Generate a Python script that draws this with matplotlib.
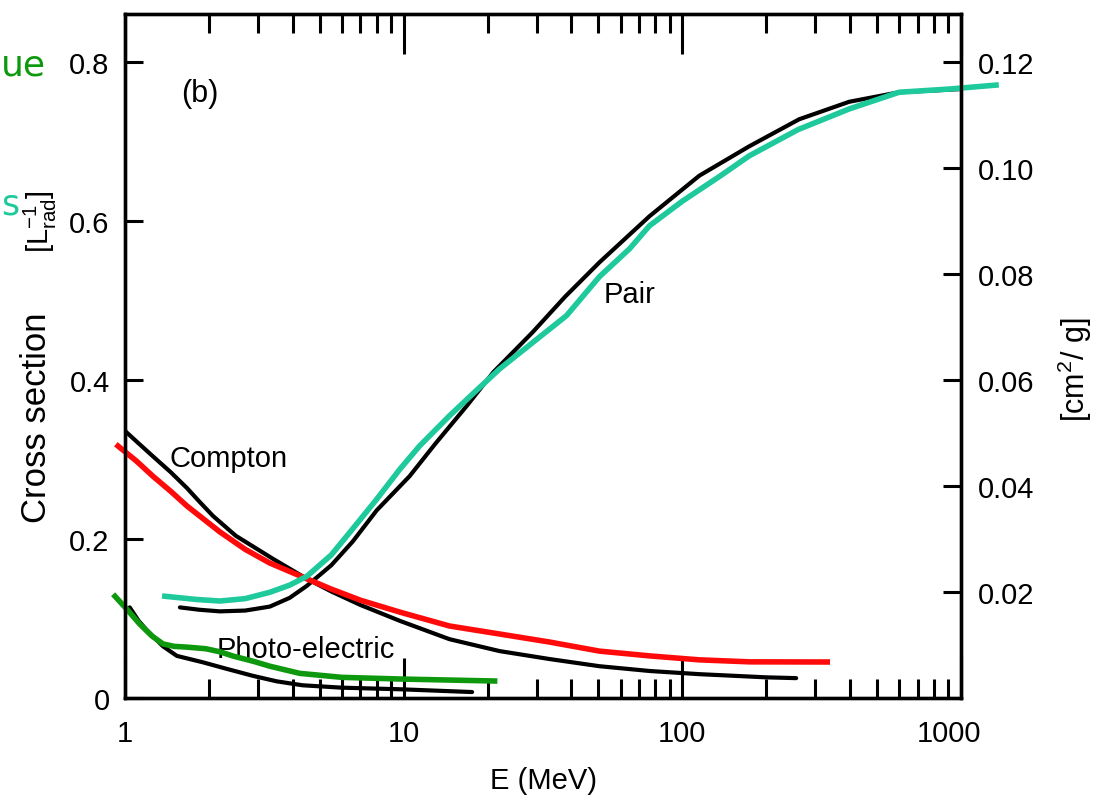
import numpy as np
import matplotlib
matplotlib.use("Agg")
import matplotlib.pyplot as plt
from matplotlib.transforms import ScaledTranslation

plt.rcParams['font.family'] = ['Liberation Sans', 'DejaVu Sans']
plt.rcParams['mathtext.fontset'] = 'custom'
plt.rcParams['mathtext.rm'] = 'Liberation Sans'
plt.rcParams['mathtext.it'] = 'Liberation Sans'

# ---- scanned (black) curves: energy in MeV, cross section in 1/L_rad ----
compton_E = [1.0, 1.13, 1.26, 1.46, 1.67, 1.85, 2.07, 2.5, 3.4, 4.49, 5.5, 7.0, 9.7, 14.6, 22.1, 33.4,
             50.4, 76.2, 115, 200, 256]
compton_v = [0.336, 0.319, 0.304, 0.284, 0.264, 0.247, 0.229, 0.204, 0.175, 0.150, 0.134, 0.117, 0.097,
             0.074, 0.059, 0.049, 0.040, 0.034, 0.030, 0.026, 0.025]

pair_E = [1.575, 1.85, 2.19, 2.7, 3.31, 3.9, 4.49, 5.5, 6.57, 8.0, 10.5, 13.0, 16.8, 21.0, 29.0, 38.0,
          50.4, 76.2, 115, 173.8, 262.5, 396.8, 599.6, 1000]
pair_v = [0.114, 0.111, 0.109, 0.110, 0.115, 0.126, 0.141, 0.167, 0.197, 0.236, 0.279, 0.320, 0.367,
          0.410, 0.460, 0.505, 0.548, 0.606, 0.657, 0.694, 0.728, 0.750, 0.762, 0.766]

photo_E = [1.04, 1.12, 1.2, 1.37, 1.535, 1.90, 2.3, 2.87, 3.5, 4.34, 6.0, 9.7, 17.6]
photo_v = [0.114, 0.097, 0.085, 0.065, 0.053, 0.045, 0.037, 0.028, 0.021, 0.016, 0.013, 0.011, 0.0075]

# ---- coloured overlays ----
red_E = [0.944, 1.1, 1.26, 1.46, 1.67, 1.9, 2.19, 2.7, 3.3, 4.49, 5.5, 7.0, 9.7, 14.6, 22.1, 33.4,
         50.4, 76.2, 115, 174, 331]
red_v = [0.317, 0.298, 0.279, 0.260, 0.2415, 0.226, 0.209, 0.187, 0.170, 0.150, 0.137, 0.123, 0.108,
         0.0906, 0.0805, 0.0704, 0.059, 0.053, 0.048, 0.0455, 0.0453]

teal_E = [1.39, 1.8, 2.19, 2.7, 3.31, 3.9, 4.49, 5.5, 6.57, 8.0, 9.7, 11.4, 14.6, 18.0, 22.1, 29.0,
          38.4, 50.4, 64.6, 76.2, 100, 135.8, 173.8, 260, 396.8, 599.6, 905, 1335]
teal_v = [0.128, 0.124, 0.122, 0.125, 0.133, 0.142, 0.153, 0.180, 0.213, 0.250, 0.288, 0.317, 0.355,
          0.385, 0.414, 0.447, 0.481, 0.530, 0.565, 0.594, 0.625, 0.656, 0.682, 0.715, 0.741, 0.762,
          0.766, 0.771]

green_E = [0.921, 1.02, 1.13, 1.25, 1.37, 1.5, 1.67, 1.95, 2.2, 2.44, 2.9, 3.31, 4.24, 6.0, 9.7, 21.2]
green_v = [0.128, 0.111, 0.093, 0.078, 0.068, 0.065, 0.064, 0.062, 0.058, 0.0528, 0.046, 0.040,
           0.031, 0.026, 0.0239, 0.0214]

left_ticks = [0, 0.2, 0.4, 0.6, 0.8]
left_labels = ['0', '0.2', '0.4', '0.6', '0.8']
right_ticks = [0.02, 0.04, 0.06, 0.08, 0.10, 0.12]
right_labels = ['0.02', '0.04', '0.06', '0.08', '0.10', '0.12']
x_ticks = [1, 10, 100, 1000]
x_labels = ['1', '10', '100', '1000']

fig = plt.figure(figsize=(10.99, 8.03), dpi=100)
ax = fig.add_axes([0.1137, 0.1295, 0.8745 - 0.1137, 0.9813 - 0.1295])

ax.set_xscale('log')
ax.set_xlim(1, 1000)
ax.set_ylim(0, 0.8604)

lw_black = 3.0
for xs, ys in [(compton_E, compton_v), (pair_E, pair_v), (photo_E, photo_v)]:
    ax.plot(xs, ys, color='black', lw=lw_black, solid_capstyle='round', solid_joinstyle='round')

lw_col = 4.0
ax.plot(red_E, red_v, color='#ff0a0a', lw=lw_col, clip_on=False, zorder=5, solid_joinstyle='round')
ax.plot(teal_E, teal_v, color='#1ec99c', lw=lw_col, clip_on=False, zorder=5, solid_joinstyle='round')
ax.plot(green_E, green_v, color='#0e980e', lw=lw_col, clip_on=False, zorder=5, solid_joinstyle='round')

# axes styling
for sp in ax.spines.values():
    sp.set_linewidth(2.4)
ax.set_xticks(x_ticks)
ax.set_xticklabels(x_labels)
ax.set_yticks(left_ticks)
ax.set_yticklabels(left_labels)
ax.tick_params(axis='x', which='major', direction='in', length=29, width=2.2,
               top=True, labelsize=21, pad=15)
ax.tick_params(axis='x', which='minor', direction='in', length=14, width=2.2, top=True)
ax.tick_params(axis='y', which='major', direction='in', length=13, width=2.2,
               right=False, labelsize=21, pad=11)
for lab in ax.get_xticklabels():
    if lab.get_text() == '1000':
        lab.set_transform(lab.get_transform() + ScaledTranslation(-0.12, 0, fig.dpi_scale_trans))

ax2 = ax.twinx()
ax2.set_ylim(0, 0.8604 * 0.15)
ax2.set_yticks(right_ticks)
ax2.set_yticklabels(right_labels)
ax2.tick_params(axis='y', direction='in', length=13, width=2.2, labelsize=21, pad=12)
for sp in ax2.spines.values():
    sp.set_linewidth(2.4)

# labels
ax.set_xlabel('E (MeV)', fontsize=21, labelpad=14)
fig.text(37 / 1099, 1 - 418 / 803, 'Cross section', rotation=90, ha='center', va='center', fontsize=25)
fig.text(40 / 1099, 1 - 222 / 803, r'[L$^{-1}_{\rm rad}$]', rotation=90, ha='center', va='center', fontsize=21)
fig.text(1075 / 1099, 1 - 370 / 803, r'[cm$^{2}$/ g]', rotation=90, ha='center', va='center', fontsize=22)

ax.text(1.86, 0.761, '(b)', ha='center', va='center', fontsize=22)
ax.text(2.36, 0.302, 'Compton', ha='center', va='center', fontsize=21)
ax.text(64.6, 0.508, 'Pair', ha='center', va='center', fontsize=21)
ax.text(4.46, 0.0616, 'Photo-electric', ha='center', va='center', fontsize=21)

# cut-off slide text at the left edge
fig.text(1 / 1099, 1 - 75 / 803, 'ue', color='#0e980e', ha='left', va='baseline',
         fontsize=26, family='DejaVu Sans')
fig.text(1 / 1099, 1 - 215 / 803, 's', color='#1ec99c', ha='left', va='baseline',
         fontsize=25, family='DejaVu Sans')

fig.savefig('out.png', dpi=100)
